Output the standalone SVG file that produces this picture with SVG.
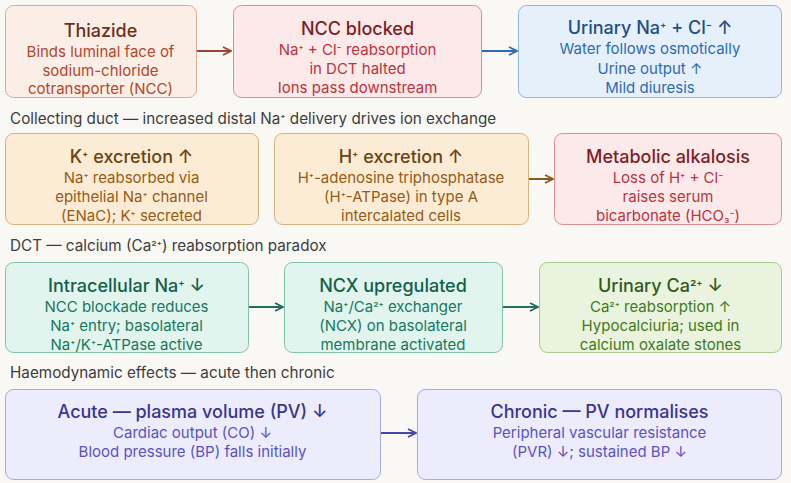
<svg xmlns="http://www.w3.org/2000/svg" width="791" height="483" viewBox="0 0 791 483">
<style>
text{font-family:Inter,"Noto Sans","Liberation Sans",sans-serif;text-anchor:middle}
.t{font-size:18px;font-weight:500}
.b{font-size:15px}
.s{font-size:80%}
.lab{font-size:15.25px;fill:#3d3d3d;text-anchor:start}
.box{stroke-width:1}
.c1{fill:#fbeee6;stroke:#e2a78e}.c1 .t{fill:#6e2e1b}.c1 .b{fill:#b3462b}
.c2{fill:#fce9ea;stroke:#dc8e94}.c2 .t{fill:#7c1f26}.c2 .b{fill:#b9343c}
.c3{fill:#e6f0fb;stroke:#8fb4de}.c3 .t{fill:#1f4e84}.c3 .b{fill:#2d6bb4}
.c4{fill:#fcecd6;stroke:#d8b27c}.c4 .t{fill:#6b4411}.c4 .b{fill:#975b13}
.c5{fill:#e1f4ee;stroke:#7fc2ac}.c5 .t{fill:#12604a}.c5 .b{fill:#17785d}
.c6{fill:#eaf3dd;stroke:#a8ca8c}.c6 .t{fill:#2f5a1a}.c6 .b{fill:#3f7a22}
.c7{fill:#ececfc;stroke:#aaa7e6}.c7 .t{fill:#3a3590}.c7 .b{fill:#5a52c4}
.c1 text,.c2 text,.c3 text,.c4 text,.c5 text,.c6 text,.c7 text{stroke:none}
.e{fill:none;stroke-width:2}
</style>
<defs>
<marker id="mr" viewBox="0 0 10 10" refX="9" refY="5" markerWidth="10" markerHeight="10" markerUnits="userSpaceOnUse" orient="auto"><path d="M1,1 L9,5 L1,9" fill="none" stroke="#a3432b" stroke-width="1.8"/></marker>
<marker id="mb" viewBox="0 0 10 10" refX="9" refY="5" markerWidth="10" markerHeight="10" markerUnits="userSpaceOnUse" orient="auto"><path d="M1,1 L9,5 L1,9" fill="none" stroke="#2d6bb4" stroke-width="1.8"/></marker>
<marker id="mo" viewBox="0 0 10 10" refX="9" refY="5" markerWidth="10" markerHeight="10" markerUnits="userSpaceOnUse" orient="auto"><path d="M1,1 L9,5 L1,9" fill="none" stroke="#8a5a1a" stroke-width="1.8"/></marker>
<marker id="mg" viewBox="0 0 10 10" refX="9" refY="5" markerWidth="10" markerHeight="10" markerUnits="userSpaceOnUse" orient="auto"><path d="M1,1 L9,5 L1,9" fill="none" stroke="#1f6f5a" stroke-width="1.8"/></marker>
<marker id="mp" viewBox="0 0 10 10" refX="9" refY="5" markerWidth="10" markerHeight="10" markerUnits="userSpaceOnUse" orient="auto"><path d="M1,1 L9,5 L1,9" fill="none" stroke="#4a44b0" stroke-width="1.8"/></marker>
</defs>
<rect width="791" height="483" fill="#f9f8f5"/>

<g id="connectors">
<line class="e" x1="196" y1="51" x2="231" y2="51" stroke="#a3432b" marker-end="url(#mr)"/>
<line class="e" x1="482" y1="51" x2="517" y2="51" stroke="#2d6bb4" marker-end="url(#mb)"/>
<line class="e" x1="528" y1="179" x2="553" y2="179" stroke="#8a5a1a" marker-end="url(#mo)"/>
<line class="e" x1="248" y1="307" x2="283" y2="307" stroke="#1f6f5a" marker-end="url(#mg)"/>
<line class="e" x1="502" y1="307" x2="538" y2="307" stroke="#1f6f5a" marker-end="url(#mg)"/>
<line class="e" x1="380" y1="433" x2="416" y2="433" stroke="#4a44b0" marker-end="url(#mp)"/>
</g>

<g id="thiazide" class="c1">
<rect class="box" x="5.5" y="5.5" width="191" height="92" rx="8"/>
<text class="t" x="100.5" y="37">Thiazide</text>
<text class="b" x="100.5" y="57">Binds luminal face of</text>
<text class="b" x="100.5" y="75.5">sodium-chloride</text>
<text class="b" x="100.5" y="94">cotransporter (NCC)</text>
</g>
<g id="ncc-blocked" class="c2">
<rect class="box" x="233.5" y="5.5" width="248" height="92" rx="8"/>
<text class="t" x="357.5" y="35">NCC blocked</text>
<text class="b" x="357.5" y="55">Na<tspan class="s">⁺</tspan> + Cl<tspan class="s">⁻</tspan> reabsorption</text>
<text class="b" x="357.5" y="74">in DCT halted</text>
<text class="b" x="357.5" y="93">Ions pass downstream</text>
</g>
<g id="urinary-nacl" class="c3">
<rect class="box" x="518.5" y="5.5" width="263" height="92" rx="8"/>
<text class="t" x="650" y="34">Urinary Na<tspan class="s">⁺</tspan> + Cl<tspan class="s">⁻</tspan> ↑</text>
<text class="b" x="650" y="54">Water follows osmotically</text>
<text class="b" x="650" y="74">Urine output ↑</text>
<text class="b" x="650" y="93">Mild diuresis</text>
</g>

<text class="lab" x="10" y="124">Collecting duct — increased distal Na<tspan class="s">⁺</tspan> delivery drives ion exchange</text>

<g id="k-excretion" class="c4">
<rect class="box" x="5.5" y="133.5" width="253" height="91" rx="8"/>
<text class="t" x="131.5" y="163">K<tspan class="s">⁺</tspan> excretion ↑</text>
<text class="b" x="131.5" y="183">Na<tspan class="s">⁺</tspan> reabsorbed via</text>
<text class="b" x="131.5" y="202">epithelial Na<tspan class="s">⁺</tspan> channel</text>
<text class="b" x="131.5" y="221">(ENaC); K<tspan class="s">⁺</tspan> secreted</text>
</g>
<g id="h-excretion" class="c4">
<rect class="box" x="274.5" y="133.5" width="254" height="91" rx="8"/>
<text class="t" x="401" y="163">H<tspan class="s">⁺</tspan> excretion ↑</text>
<text class="b" x="401" y="183">H<tspan class="s">⁺</tspan>-adenosine triphosphatase</text>
<text class="b" x="401" y="202">(H<tspan class="s">⁺</tspan>-ATPase) in type A</text>
<text class="b" x="401" y="221">intercalated cells</text>
</g>
<g id="metabolic-alkalosis" class="c2">
<rect class="box" x="554.5" y="133.5" width="227" height="91" rx="8"/>
<text class="t" x="668" y="163">Metabolic alkalosis</text>
<text class="b" x="668" y="183">Loss of H<tspan class="s">⁺</tspan> + Cl<tspan class="s">⁻</tspan></text>
<text class="b" x="668" y="202">raises serum</text>
<text class="b" x="668" y="221">bicarbonate (HCO<tspan class="s">₃⁻</tspan>)</text>
</g>

<text class="lab" x="10" y="251">DCT — calcium (Ca<tspan class="s">²⁺</tspan>) reabsorption paradox</text>

<g id="intracellular-na" class="c5">
<rect class="box" x="5.5" y="262.5" width="243" height="90" rx="8"/>
<text class="t" x="126.5" y="292">Intracellular Na<tspan class="s">⁺</tspan> ↓</text>
<text class="b" x="126.5" y="312">NCC blockade reduces</text>
<text class="b" x="126.5" y="331">Na<tspan class="s">⁺</tspan> entry; basolateral</text>
<text class="b" x="126.5" y="350">Na<tspan class="s">⁺</tspan>/K<tspan class="s">⁺</tspan>-ATPase active</text>
</g>
<g id="ncx" class="c5">
<rect class="box" x="284.5" y="262.5" width="218" height="90" rx="8"/>
<text class="t" x="393" y="292">NCX upregulated</text>
<text class="b" x="393" y="312">Na<tspan class="s">⁺</tspan>/Ca<tspan class="s">²⁺</tspan> exchanger</text>
<text class="b" x="393" y="331">(NCX) on basolateral</text>
<text class="b" x="393" y="350">membrane activated</text>
</g>
<g id="urinary-ca" class="c6">
<rect class="box" x="539.5" y="262.5" width="242" height="90" rx="8"/>
<text class="t" x="660.5" y="292">Urinary Ca<tspan class="s">²⁺</tspan> ↓</text>
<text class="b" x="660.5" y="312">Ca<tspan class="s">²⁺</tspan> reabsorption ↑</text>
<text class="b" x="660.5" y="331">Hypocalciuria; used in</text>
<text class="b" x="660.5" y="350">calcium oxalate stones</text>
</g>

<text class="lab" x="10" y="378">Haemodynamic effects — acute then chronic</text>

<g id="acute" class="c7">
<rect class="box" x="5.5" y="389.5" width="375" height="90" rx="8"/>
<text class="t" x="192.5" y="418">Acute — plasma volume (PV) ↓</text>
<text class="b" x="192.5" y="438">Cardiac output (CO) ↓</text>
<text class="b" x="192.5" y="457">Blood pressure (BP) falls initially</text>
</g>
<g id="chronic" class="c7">
<rect class="box" x="417.5" y="389.5" width="364" height="90" rx="8"/>
<text class="t" x="599.5" y="418">Chronic — PV normalises</text>
<text class="b" x="599.5" y="438">Peripheral vascular resistance</text>
<text class="b" x="599.5" y="457">(PVR) ↓; sustained BP ↓</text>
</g>
</svg>
